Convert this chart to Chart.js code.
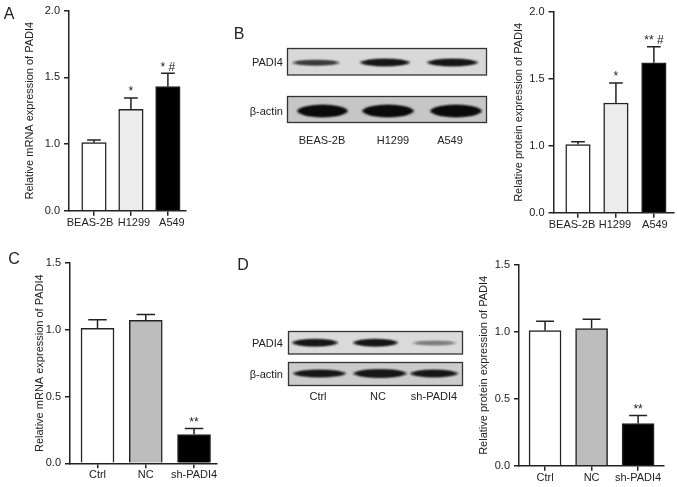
<!DOCTYPE html>
<html>
<head>
<meta charset="utf-8">
<script src="https://cdn.jsdelivr.net/npm/chart.js@4.4.1/dist/chart.umd.min.js"></script>
<style>
body{margin:0;background:#fff;width:677px;height:487px;position:relative;overflow:hidden;font-family:"Liberation Sans",Arial,sans-serif;color:#222}
canvas{position:absolute}
.lbl{position:absolute;font-size:11px;line-height:11px;white-space:nowrap;transform:translate(-50%,-50%)}
.rt{transform:translate(-100%,-50%)}
.letter{position:absolute;font-size:16px;line-height:16px;transform:translate(-50%,-50%)}
</style>
</head>
<body>
<canvas id="blots" width="300" height="487" style="left:200px;top:0"></canvas>
<canvas id="cA" width="200" height="235" style="left:0;top:0"></canvas>
<canvas id="cB" width="200" height="235" style="left:477px;top:0"></canvas>
<canvas id="cC" width="230" height="247" style="left:0;top:240px"></canvas>
<canvas id="cD" width="200" height="247" style="left:477px;top:240px"></canvas>

<div class="letter" style="left:9px;top:14px">A</div>
<div class="letter" style="left:239px;top:34px">B</div>
<div class="letter" style="left:14px;top:259px">C</div>
<div class="letter" style="left:243px;top:265px">D</div>

<div class="lbl rt" style="left:283px;top:62px">PADI4</div>
<div class="lbl rt" style="left:283px;top:111px">β-actin</div>
<div class="lbl rt" style="left:283px;top:343px">PADI4</div>
<div class="lbl rt" style="left:283px;top:374px">β-actin</div>
<div id="lanesB"></div>
<div id="lanesD"></div>

<script>
// Categories
var cellLines = ['BEAS-2B', 'H1299', 'A549'];
var groups = ['Ctrl', 'NC', 'sh-PADI4'];

// A: relative mRNA expression (mean and upper SD)
var mrnaLines = [1.01, 1.26, 1.43];
var mrnaLinesErr = [0.02, 0.085, 0.10];
var mrnaLinesMarks = ['', '*', '* #'];

// B: relative protein expression
var protLines = [1.01, 1.32, 1.62];
var protLinesErr = [0.02, 0.15, 0.12];
var protLinesMarks = ['', '*', '** #'];

// C: mRNA after knockdown
var mrnaKd = [1.01, 1.07, 0.215];
var mrnaKdErr = [0.065, 0.045, 0.045];
var kdMarks = ['', '', '**'];

// D: protein after knockdown
var protKd = [1.01, 1.025, 0.315];
var protKdErr = [0.07, 0.07, 0.06];

// tick labels
var brokenTicks = [0, 1, 1.5, 2];
var kdTicks = [0, 0.5, 1, 1.5];

// band darkness of the blots (0 = none, 1 = black)
var bandB_padi4 = [0.75, 0.9, 0.9];
var bandB_actin = [0.95, 0.95, 0.95];
var bandD_padi4 = [0.9, 0.9, 0.45];
var bandD_actin = [0.9, 0.9, 0.9];

var FONT = '"Liberation Sans", Arial, sans-serif';
Chart.defaults.font.family = FONT;
Chart.defaults.font.size = 11;
Chart.defaults.color = '#222';

// y axis where 0-1 takes the same room as 1-1.5 (as in the top panels)
var LinearScale = Chart.registry.getScale('linear');
function squash(v) { return v <= 1 ? v * 2 / 3 : 2 / 3 + (v - 1) * 4 / 3; }
function unsquash(d) { return d <= 2 / 3 ? d * 1.5 : 1 + (d - 2 / 3) * 0.75; }
class BrokenScale extends LinearScale {
	getPixelForValue(v) { return super.getPixelForValue(squash(v)); }
	getValueForPixel(p) { return unsquash(super.getValueForPixel(p)); }
}
BrokenScale.id = 'broken';
BrokenScale.defaults = LinearScale.defaults;
Chart.register(BrokenScale);

// error bars (upper half only), significance marks and the category names
var errorBarPlugin = {
	id: 'errorBars',
	afterDatasetsDraw: function(chart) {
		var ctx = chart.ctx;
		var ds = chart.data.datasets[0];
		var meta = chart.getDatasetMeta(0);
		var x = chart.scales.x;
		var y = chart.scales.y;
		ctx.save();
		ctx.strokeStyle = '#222';
		ctx.fillStyle = '#222';
		ctx.lineWidth = 1.5;
		ctx.textAlign = 'center';
		for (var i = 0; i < meta.data.length; i++) {
			var bar = meta.data[i];
			var top = y.getPixelForValue(ds.data[i].y);
			var cap = y.getPixelForValue(ds.data[i].y + ds.errors[i]);
			var half = bar.width * 0.28;
			ctx.beginPath();
			ctx.moveTo(bar.x, top);
			ctx.lineTo(bar.x, cap);
			ctx.moveTo(bar.x - half, cap);
			ctx.lineTo(bar.x + half, cap);
			ctx.stroke();
			if (ds.marks[i]) {
				ctx.font = '12px ' + FONT;
				ctx.textBaseline = 'alphabetic';
				ctx.fillText(ds.marks[i], bar.x, cap - 2.5);
			}
			// category name under the axis
			ctx.font = '11px ' + FONT;
			ctx.textBaseline = 'middle';
			ctx.fillText(ds.names[i], x.getPixelForValue(i) + ds.nudge[i], x.top + 12);
		}
		ctx.restore();
	}
};

function makeBarChart(id, p) {
	var points = [];
	for (var i = 0; i < p.values.length; i++) {
		points.push({x: i, y: p.values[i]});
	}
	var axisLine = {color: '#222', width: 1.5};
	var tickGrid = {offset: false, drawOnChartArea: false, drawTicks: true, tickLength: 5, color: '#222', lineWidth: 1.5};
	return new Chart(document.getElementById(id).getContext('2d'), {
		type: 'bar',
		data: {
			datasets: [{
				data: points,
				backgroundColor: p.colors,
				borderColor: '#222',
				borderWidth: 1.5,
				barThickness: p.barWidth,
				errors: p.errors,
				marks: p.marks,
				names: p.labels,
				nudge: p.nudge
			}]
		},
		options: {
			responsive: false,
			animation: false,
			layout: {padding: {left: p.padLeft, top: p.top, right: p.padRight, bottom: 0}},
			plugins: {legend: {display: false}, tooltip: {enabled: false}},
			scales: {
				x: {
					type: 'linear',
					offset: false,
					min: p.xMin,
					max: p.xMax,
					afterBuildTicks: function(s) {
						s.ticks = p.labels.map(function(l, i) { return {value: i}; });
					},
					afterFit: function(s) { s.height = p.xHeight; },
					ticks: {display: false},
					grid: tickGrid,
					border: axisLine
				},
				y: {
					type: p.broken ? 'broken' : 'linear',
					min: 0,
					max: p.yMax,
					afterBuildTicks: function(s) {
						s.ticks = p.yTicks.map(function(v) { return {value: v}; });
					},
					afterFit: function(s) { s.width = p.yWidth; },
					ticks: {
						padding: 4,
						callback: function(v) { return v.toFixed(1); }
					},
					title: {
						display: true,
						text: p.title,
						padding: {top: p.titlePad, bottom: 0},
						font: {size: 11}
					},
					grid: tickGrid,
					border: axisLine
				}
			}
		},
		plugins: [errorBarPlugin]
	});
}

makeBarChart('cA', {
	labels: cellLines, values: mrnaLines, errors: mrnaLinesErr, marks: mrnaLinesMarks,
	colors: ['#ffffff', '#ececec', '#000000'], barWidth: 24.5,
	broken: true, yMax: 2, yTicks: brokenTicks,
	title: 'Relative mRNA expression of PADI4',
	padLeft: 17, titlePad: 6, yWidth: 52, top: 10, padRight: 14, xHeight: 24.3,
	xMin: -0.676, xMax: 2.49, nudge: [-4, 3, 4]
});

makeBarChart('cB', {
	labels: cellLines, values: protLines, errors: protLinesErr, marks: protLinesMarks,
	colors: ['#ffffff', '#ececec', '#000000'], barWidth: 24.5,
	broken: true, yMax: 2, yTicks: brokenTicks,
	title: 'Relative protein expression of PADI4',
	padLeft: 29, titlePad: 6, yWidth: 47.5, top: 12, padRight: 3, xHeight: 22.3,
	xMin: -0.645, xMax: 2.53, nudge: [-6, -1, 1]
});

makeBarChart('cC', {
	labels: groups, values: mrnaKd, errors: mrnaKdErr, marks: kdMarks,
	colors: ['#ffffff', '#bdbdbd', '#000000'], barWidth: 33,
	broken: false, yMax: 1.5, yTicks: kdTicks,
	title: 'Relative mRNA expression of PADI4',
	padLeft: 27.4, titlePad: 6, yWidth: 42.6, top: 23, padRight: 13.3, xHeight: 23.7,
	xMin: -0.57, xMax: 2.47, nudge: [0, 0, 0]
});

makeBarChart('cD', {
	labels: groups, values: protKd, errors: protKdErr, marks: kdMarks,
	colors: ['#ffffff', '#bdbdbd', '#000000'], barWidth: 32,
	broken: false, yMax: 1.5, yTicks: kdTicks,
	title: 'Relative protein expression of PADI4',
	padLeft: 0.4, titlePad: 0, yWidth: 41.6, top: 25, padRight: 13.3, xHeight: 21.3,
	xMin: -0.56, xMax: 2.55, nudge: [0, 0, 0]
});

// western blot pictures
var bctx = document.getElementById('blots').getContext('2d');
bctx.translate(-200, 0);

function blotBox(x0, y0, x1, y1, fill) {
	bctx.fillStyle = fill;
	bctx.fillRect(x0, y0, x1 - x0, y1 - y0);
	bctx.strokeStyle = '#333';
	bctx.lineWidth = 1.3;
	bctx.strokeRect(x0, y0, x1 - x0, y1 - y0);
}

function band(x0, x1, yc, h, dark) {
	var g = Math.round(225 * (1 - dark));
	bctx.save();
	bctx.filter = 'blur(1.2px)';
	bctx.fillStyle = 'rgb(' + g + ',' + g + ',' + g + ')';
	bctx.beginPath();
	bctx.ellipse((x0 + x1) / 2, yc, (x1 - x0) / 2, h / 2, 0, 0, Math.PI * 2);
	bctx.fill();
	bctx.beginPath();
	bctx.ellipse((x0 + x1) / 2, yc, (x1 - x0) / 2 - 4, h / 2 + 0.5, 0, 0, Math.PI * 2);
	bctx.fill();
	bctx.restore();
}

blotBox(287.5, 48.5, 486.5, 75, '#d8d8d8');
band(292, 340, 62.7, 4, bandB_padi4[0]);
band(360, 410, 62.5, 6, bandB_padi4[1]);
band(427, 478, 62.5, 6, bandB_padi4[2]);

blotBox(287.5, 96.5, 486.5, 122.5, '#c6c6c6');
band(297, 348, 111, 11, bandB_actin[0]);
band(362, 414, 111, 11, bandB_actin[1]);
band(430, 482, 111, 11, bandB_actin[2]);

blotBox(288.5, 331.5, 462.5, 354, '#dadada');
band(292, 338, 342.7, 6, bandD_padi4[0]);
band(353, 398, 342.7, 6, bandD_padi4[1]);
band(412, 457, 343, 3, bandD_padi4[2]);

blotBox(288.5, 362.5, 462.5, 385.5, '#cbcbcb');
band(293, 346, 373.5, 6, bandD_actin[0]);
band(353, 407, 373.5, 7, bandD_actin[1]);
band(410, 458, 373.5, 6, bandD_actin[2]);

// lane labels under the blots
function laneLabels(el, names, xs, y) {
	var html = '';
	for (var i = 0; i < names.length; i++) {
		html += '<div class="lbl" style="left:' + xs[i] + 'px;top:' + y + 'px">' + names[i] + '</div>';
	}
	document.getElementById(el).innerHTML = html;
}
laneLabels('lanesB', cellLines, [322, 393, 450], 139.5);
laneLabels('lanesD', groups, [318, 378, 434], 395.5);
</script>
</body>
</html>
